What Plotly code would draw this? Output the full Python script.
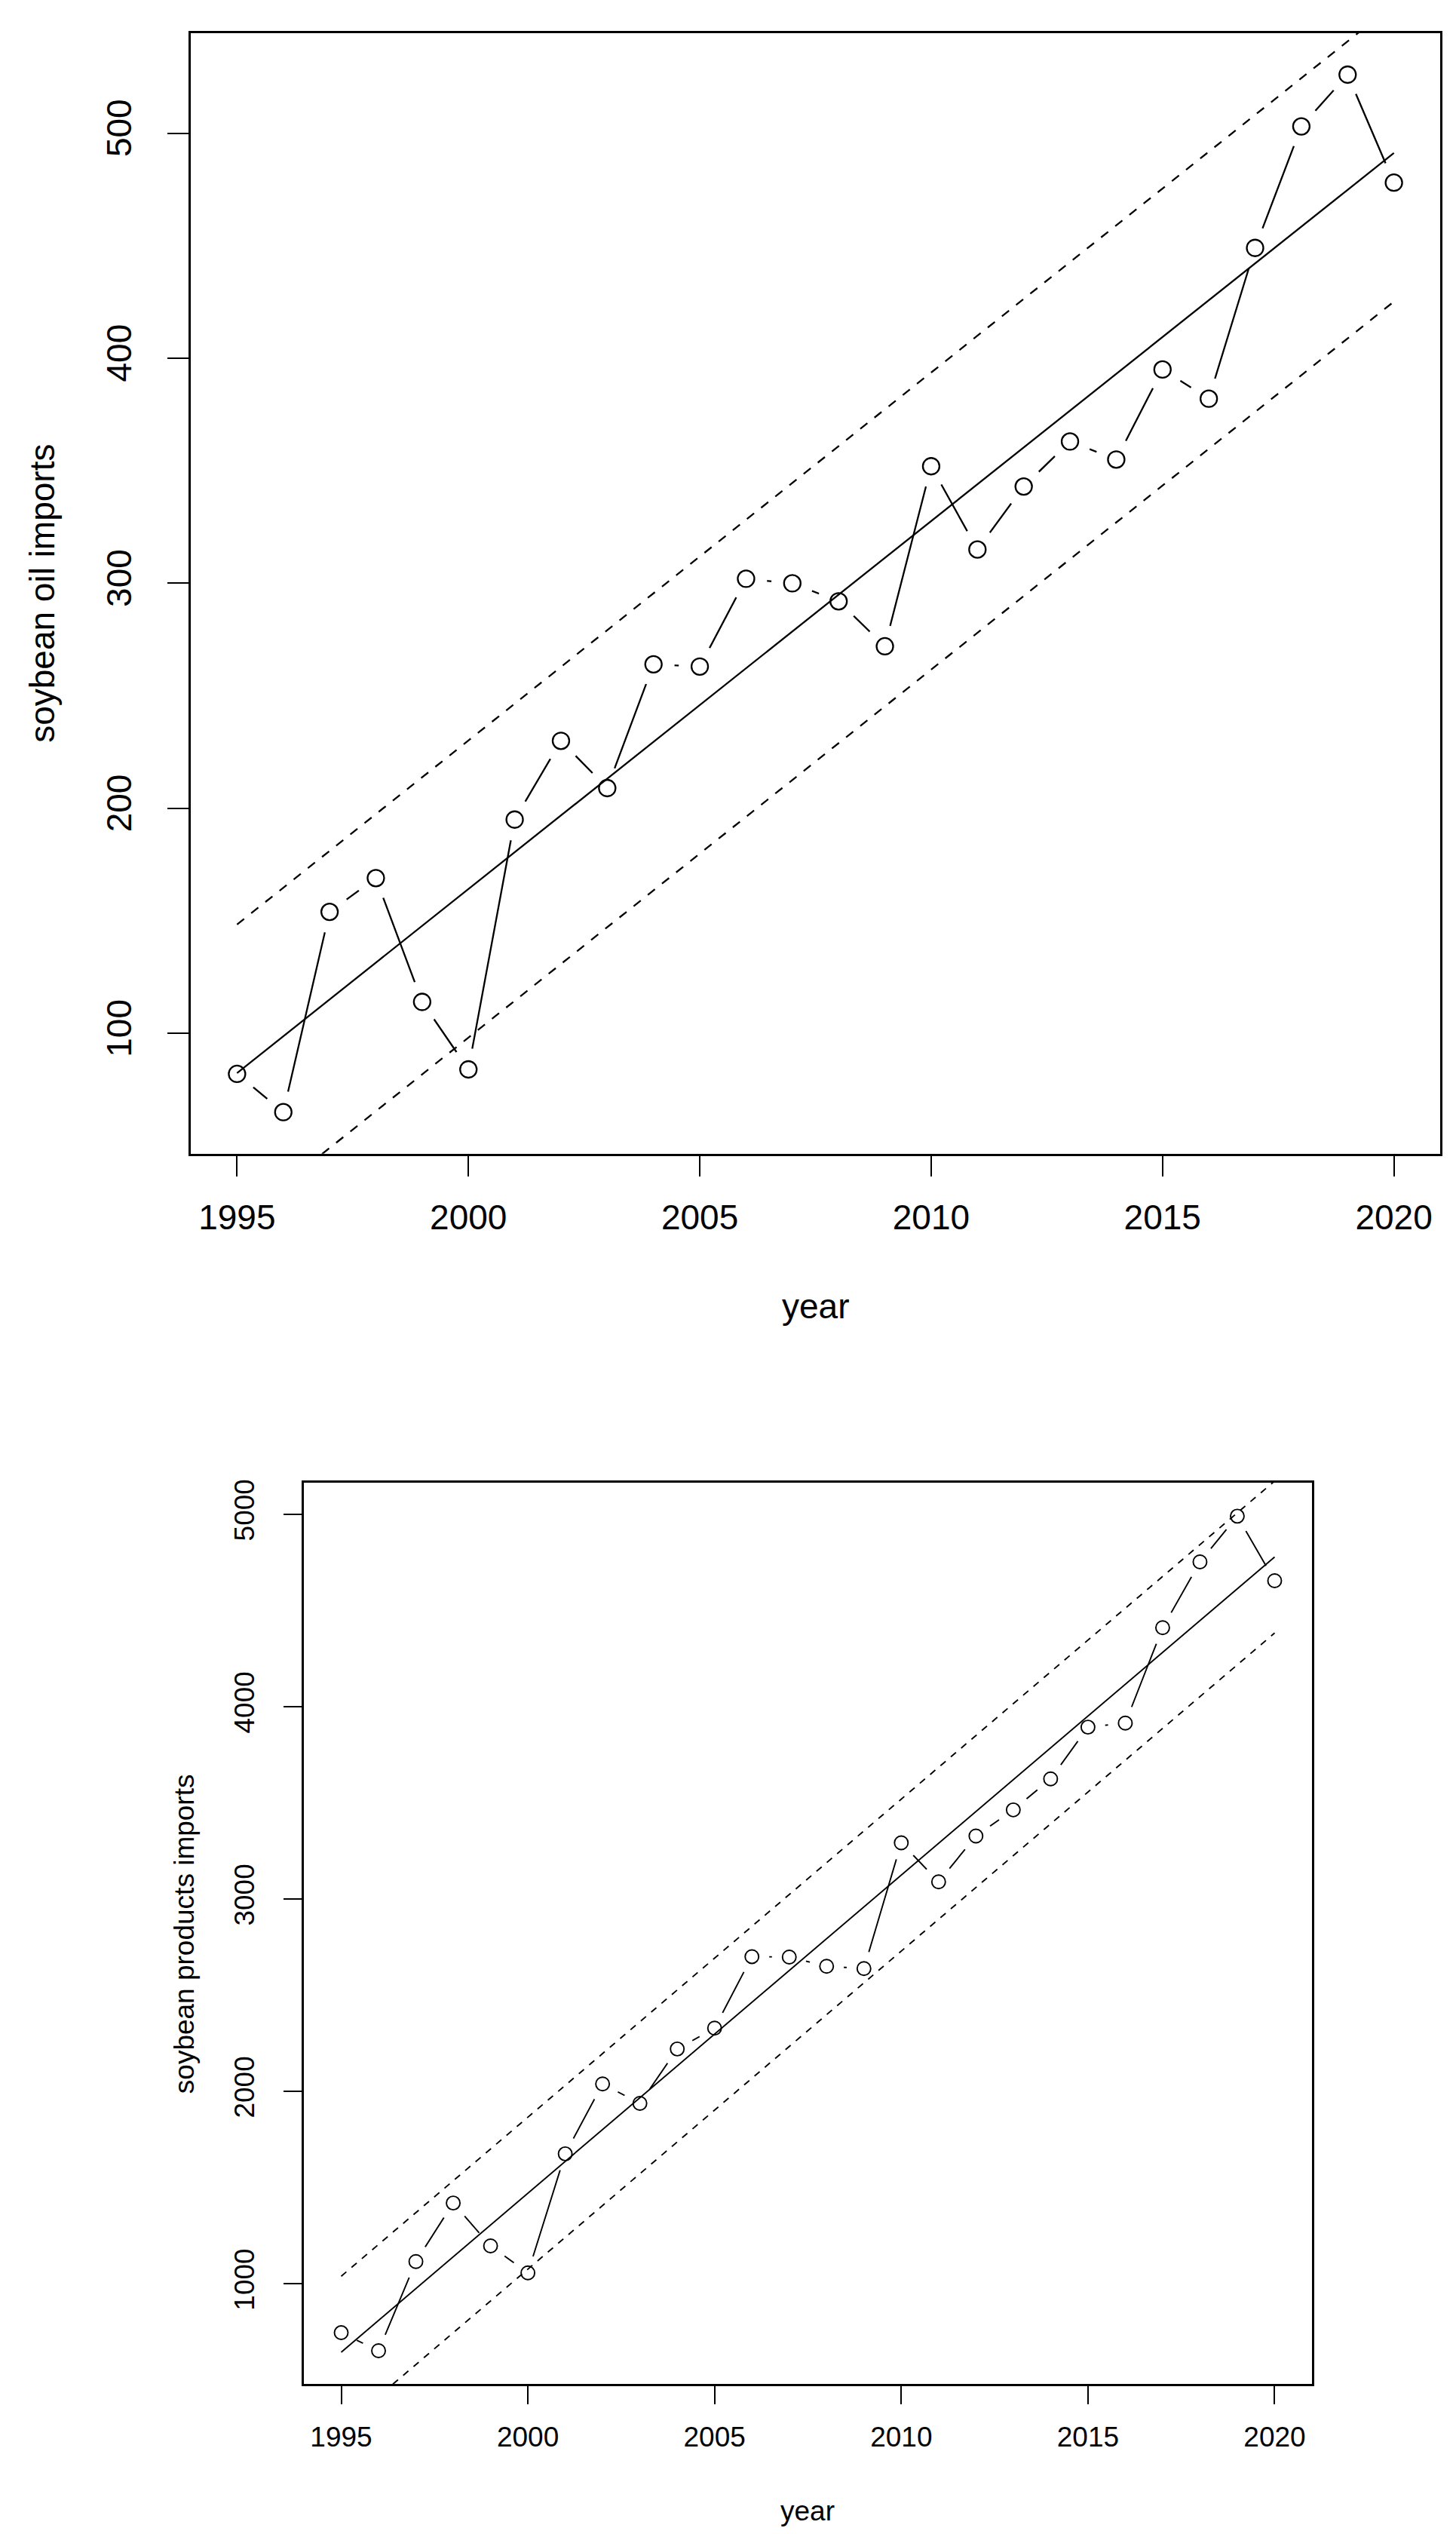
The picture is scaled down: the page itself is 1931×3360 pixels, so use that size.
import numpy as np
import plotly.graph_objects as go

W, H = 1931, 3360

years = list(range(1995, 2021))
oil_imports = [82, 65, 154, 169, 114, 84, 195, 230, 209, 264, 263, 302, 300,
               292, 272, 352, 315, 343, 363, 355, 395, 382, 449, 503, 526, 478]
product_imports = [745, 651, 1115, 1419, 1196, 1056, 1675, 2038, 1937, 2220, 2328,
                   2700, 2698, 2650, 2638, 3292, 3089, 3327, 3463, 3624, 3893, 3914,
                   4410, 4752, 4990, 4654]
oil_band = 66       # half-width of dashed band
product_band = 395

x_ticks = [1995, 2000, 2005, 2010, 2015, 2020]
oil_ticks = [100, 200, 300, 400, 500]
product_ticks = [1000, 2000, 3000, 4000, 5000]

FONT = "Liberation Sans, Arial, Helvetica, sans-serif"


def rrange(v):
    lo, hi = min(v), max(v)
    d = 0.04 * (hi - lo)
    return [lo - d, hi + d]


def px_dom_x(a, b):
    return [a / W, b / W]


def px_dom_y(top, bottom):
    return [1 - bottom / H, 1 - top / H]


fig = go.Figure()


def add_panel(xa, ya, vals, band, lw, mask, msize, dash):
    yrs = np.array(years, dtype=float)
    v = np.array(vals, dtype=float)
    b, a = np.polyfit(yrs, v, 1)
    fit = a + b * yrs
    common = dict(xaxis=xa, yaxis=ya, showlegend=False, hoverinfo="skip")
    fig.add_trace(go.Scatter(x=years, y=vals, mode="lines",
                             line=dict(color="black", width=lw), **common))
    fig.add_trace(go.Scatter(x=years, y=vals, mode="markers",
                             marker=dict(color="white", size=mask, line=dict(width=0)),
                             **common))
    fig.add_trace(go.Scatter(x=years, y=fit, mode="lines",
                             line=dict(color="black", width=lw), **common))
    fig.add_trace(go.Scatter(x=years, y=fit + band, mode="lines",
                             line=dict(color="black", width=lw, dash=dash), **common))
    fig.add_trace(go.Scatter(x=years, y=fit - band, mode="lines",
                             line=dict(color="black", width=lw, dash=dash), **common))
    fig.add_trace(go.Scatter(x=years, y=vals, mode="markers",
                             marker=dict(symbol="circle-open", color="black", size=msize,
                                         line=dict(width=lw, color="black")),
                             **common))


add_panel("x", "y", oil_imports, oil_band, 2.3, 56, 22, "12px,12px")
add_panel("x2", "y2", product_imports, product_band, 1.9, 46, 18, "9px,9px")


def axis(domain, rng, tickvals, anchor, fs, ticklen, standoff, angle=None):
    d = dict(domain=domain, range=rng, tickvals=tickvals, anchor=anchor,
             ticks="outside", ticklen=ticklen, tickwidth=2.3, tickcolor="black",
             showline=True, mirror=True, linewidth=2.5, linecolor="black",
             showgrid=False, zeroline=False,
             tickfont=dict(family=FONT, size=fs, color="black"),
             ticklabelstandoff=standoff)
    if angle is not None:
        d["tickangle"] = angle
    return d


fig.update_layout(
    width=W, height=H, autosize=False,
    margin=dict(l=0, r=0, t=0, b=0),
    paper_bgcolor="white", plot_bgcolor="white",
    xaxis=axis(px_dom_x(245, 1902), [1994, 2021], x_ticks, "y", 46, 28, 14),
    yaxis=axis(px_dom_y(31, 1519), rrange(oil_imports), oil_ticks, "x", 46, 28, 30, -90),
    xaxis2=axis(px_dom_x(395, 1732), [1994, 2021], x_ticks, "y2", 37, 24, 12),
    yaxis2=axis(px_dom_y(1956, 3153), rrange(product_imports), product_ticks, "x2", 37, 24, 24, -90),
)

ann = [
    dict(text="year", x=1073 / W, y=1 - 1722 / H, size=46, angle=0),
    dict(text="soybean oil imports", x=48 / W, y=1 - 775 / H, size=46, angle=-90),
    dict(text="year", x=1063 / W, y=1 - 3321 / H, size=37, angle=0),
    dict(text="soybean products imports", x=236 / W, y=1 - 2555 / H, size=37, angle=-90),
]
for a in ann:
    fig.add_annotation(text=a["text"], x=a["x"], y=a["y"], xref="paper", yref="paper",
                       xanchor="center", yanchor="middle", showarrow=False,
                       textangle=a["angle"],
                       font=dict(family=FONT, size=a["size"], color="black"))

fig.write_html("out.html")
